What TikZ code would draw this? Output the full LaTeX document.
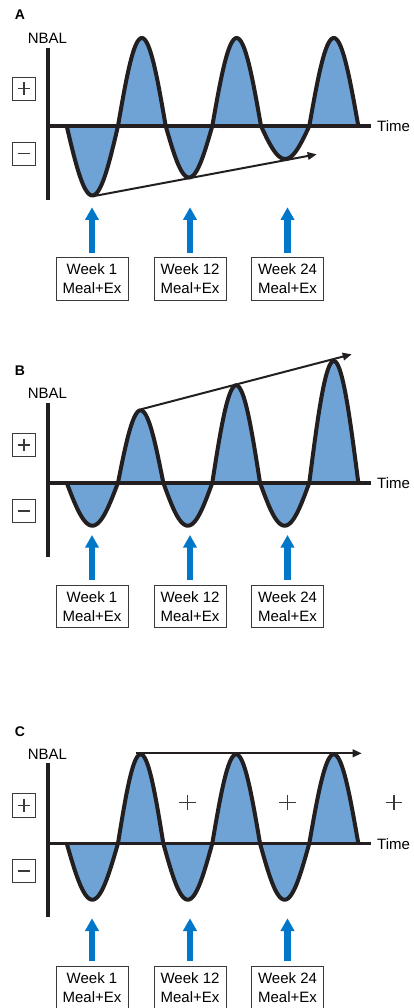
\documentclass[tikz,border=0pt]{standalone}
\usepackage{fontspec}
\setmainfont{Liberation Sans}
\usetikzlibrary{arrows.meta}
\definecolor{wavefill}{HTML}{6FA3D6}
\definecolor{arrowblue}{HTML}{0077C8}
\definecolor{ink}{HTML}{231F20}
\definecolor{boxgrey}{HTML}{3A3A3A}
\begin{document}
\begin{tikzpicture}[x=1pt,y=-1pt,
  waveline/.style={draw=ink, line width=4pt, line join=round},
  wavearea/.style={fill=wavefill},
  axisline/.style={draw=ink, line width=4pt},
  haxis/.style={draw=ink, line width=3.6pt},
  trend/.style={draw=ink, line width=2pt, -{Triangle[length=9pt,width=7.5pt]}},
  feed/.style={draw=arrowblue, line width=6.7pt, -{Triangle[length=12.7pt,width=13.3pt]}},
  mealbox/.style={draw=boxgrey, line width=0.9pt, minimum width=72pt, minimum height=42.3pt, inner sep=0pt, align=center, font=\fontsize{15}{19}\selectfont},
  signbox/.style={draw=boxgrey, line width=0.9pt, minimum width=23.4pt, minimum height=23.4pt, inner sep=0pt},
  signstroke/.style={draw=boxgrey, line width=1.3pt},
  lab/.style={font=\fontsize{15}{18}\selectfont, inner sep=0pt},
  panellab/.style={font=\bfseries\fontsize{14}{16}\selectfont, inner sep=0pt}
]
\useasboundingbox (0,0) rectangle (413,1008);
\clip (0,0) rectangle (413,1008);

% ================= Panel A =================
\node[panellab] (labA) at (20,15) {A};
\node[lab, anchor=west] (nbalA) at (27.7,38.8) {NBAL};
\fill[wavearea] (66.7,126) \foreach \a/\b/\e in {66.7/118/195.5, 118/165.7/38, 165.7/212.3/177.5, 212.3/261/38, 261/309.3/159, 309.3/358.3/38} { -- plot[variable=\t,domain=0:180,samples=40] ({\a+(\b-\a)*\t/180},{126+(\e-126)*sin(\t)}) } -- cycle;
\draw[axisline] (48.3,47.7) -- (48.3,200);
\draw[haxis] (48.3,126) -- (371,126);
\draw[waveline] (66.7,126) \foreach \a/\b/\e in {66.7/118/195.5, 118/165.7/38, 165.7/212.3/177.5, 212.3/261/38, 261/309.3/159, 309.3/358.3/38} { -- plot[variable=\t,domain=0:180,samples=40] ({\a+(\b-\a)*\t/180},{126+(\e-126)*sin(\t)}) };
\node[lab, anchor=west] (timeA) at (377,126.5) {Time};
\node[signbox] (plusA) at (24,88.7) {};
\draw[signstroke] ([xshift=-6.3pt]plusA.center) -- ([xshift=6.3pt]plusA.center);
\draw[signstroke] ([yshift=-6.3pt]plusA.center) -- ([yshift=6.3pt]plusA.center);
\node[signbox] (minusA) at (24,153.8) {};
\draw[signstroke] ([xshift=-6.3pt]minusA.center) -- ([xshift=6.3pt]minusA.center);
\coordinate (trA0) at (94.3,196);
\coordinate (trA1) at (316.7,154.3);
\draw[trend] (trA0) -- (trA1);
\node[mealbox] (bA1) at (92,278.9) {Week 1\\Meal+Ex};
\node[mealbox] (bA2) at (190,278.9) {Week 12\\Meal+Ex};
\node[mealbox] (bA3) at (287.5,278.9) {Week 24\\Meal+Ex};
\coordinate (tA1) at (92,207.3);
\coordinate (tA2) at (190,207.3);
\coordinate (tA3) at (287.5,207.3);
\draw[feed] ([yshift=4.4pt]bA1.north) -- (tA1);
\draw[feed] ([yshift=4.4pt]bA2.north) -- (tA2);
\draw[feed] ([yshift=4.4pt]bA3.north) -- (tA3);

% ================= Panel B =================
\node[panellab] (labB) at (20,371) {B};
\node[lab, anchor=west] (nbalB) at (27.7,393.3) {NBAL};
\fill[wavearea] (66.7,482.7) \foreach \a/\b/\e in {66.7/118/525.7, 118/163.3/410.3, 163.3/212.3/525.7, 212.3/260/385.3, 260/309.3/525.7, 309.3/358.3/361} { -- plot[variable=\t,domain=0:180,samples=40] ({\a+(\b-\a)*\t/180},{482.7+(\e-482.7)*sin(\t)}) } -- cycle;
\draw[axisline] (48.3,403) -- (48.3,556.7);
\draw[haxis] (48.3,482.7) -- (371,482.7);
\draw[waveline] (66.7,482.7) \foreach \a/\b/\e in {66.7/118/525.7, 118/163.3/410.3, 163.3/212.3/525.7, 212.3/260/385.3, 260/309.3/525.7, 309.3/358.3/361} { -- plot[variable=\t,domain=0:180,samples=40] ({\a+(\b-\a)*\t/180},{482.7+(\e-482.7)*sin(\t)}) };
\node[lab, anchor=west] (timeB) at (377,483.2) {Time};
\node[signbox] (plusB) at (24,445) {};
\draw[signstroke] ([xshift=-6.3pt]plusB.center) -- ([xshift=6.3pt]plusB.center);
\draw[signstroke] ([yshift=-6.3pt]plusB.center) -- ([yshift=6.3pt]plusB.center);
\node[signbox] (minusB) at (24,511) {};
\draw[signstroke] ([xshift=-6.3pt]minusB.center) -- ([xshift=6.3pt]minusB.center);
\coordinate (trB0) at (141,409.3);
\coordinate (trB1) at (351.7,354.3);
\draw[trend] (trB0) -- (trB1);
\node[mealbox] (bB1) at (92,606.2) {Week 1\\Meal+Ex};
\node[mealbox] (bB2) at (190,606.2) {Week 12\\Meal+Ex};
\node[mealbox] (bB3) at (287.5,606.2) {Week 24\\Meal+Ex};
\coordinate (tB1) at (92,535);
\coordinate (tB2) at (190,535);
\coordinate (tB3) at (287.5,535);
\draw[feed] ([yshift=5pt]bB1.north) -- (tB1);
\draw[feed] ([yshift=5pt]bB2.north) -- (tB2);
\draw[feed] ([yshift=5pt]bB3.north) -- (tB3);

% ================= Panel C =================
\node[panellab] (labC) at (20,731.7) {C};
\node[lab, anchor=west] (nbalC) at (27.7,754.7) {NBAL};
\fill[wavearea] (66.7,843.3) \foreach \a/\b/\e in {66.7/118/899.7, 118/163.3/754.3, 163.3/212.3/899.7, 212.3/260/754.3, 260/309.3/899.7, 309.3/358.3/754.3} { -- plot[variable=\t,domain=0:180,samples=40] ({\a+(\b-\a)*\t/180},{843.3+(\e-843.3)*sin(\t)}) } -- cycle;
\draw[axisline] (48.3,763.3) -- (48.3,916.7);
\draw[haxis] (48.3,843.3) -- (371,843.3);
\draw[waveline] (66.7,843.3) \foreach \a/\b/\e in {66.7/118/899.7, 118/163.3/754.3, 163.3/212.3/899.7, 212.3/260/754.3, 260/309.3/899.7, 309.3/358.3/754.3} { -- plot[variable=\t,domain=0:180,samples=40] ({\a+(\b-\a)*\t/180},{843.3+(\e-843.3)*sin(\t)}) };
\node[lab, anchor=west] (timeC) at (377,843.8) {Time};
\node[signbox] (plusC) at (24,805.3) {};
\draw[signstroke] ([xshift=-6.3pt]plusC.center) -- ([xshift=6.3pt]plusC.center);
\draw[signstroke] ([yshift=-6.3pt]plusC.center) -- ([yshift=6.3pt]plusC.center);
\node[signbox] (minusC) at (24,871) {};
\draw[signstroke] ([xshift=-6.3pt]minusC.center) -- ([xshift=6.3pt]minusC.center);
\coordinate (trC0) at (136,753.3);
\coordinate (trC1) at (361.7,753.3);
\draw[trend] (trC0) -- (trC1);
\foreach \px [count=\i] in {187.7,287.7,394} {
  \coordinate (pc\i) at (\px,802.5);
  \draw[signstroke] ([xshift=-8.3pt]pc\i) -- ([xshift=8.3pt]pc\i);
  \draw[signstroke] ([yshift=-7.5pt]pc\i) -- ([yshift=7.5pt]pc\i);
}
\node[mealbox] (bC1) at (92,987.9) {Week 1\\Meal+Ex};
\node[mealbox] (bC2) at (190,987.9) {Week 12\\Meal+Ex};
\node[mealbox] (bC3) at (287.5,987.9) {Week 24\\Meal+Ex};
\coordinate (tC1) at (92,918.3);
\coordinate (tC2) at (190,918.3);
\coordinate (tC3) at (287.5,918.3);
\draw[feed] ([yshift=5pt]bC1.north) -- (tC1);
\draw[feed] ([yshift=5pt]bC2.north) -- (tC2);
\draw[feed] ([yshift=5pt]bC3.north) -- (tC3);
\end{tikzpicture}
\end{document}
